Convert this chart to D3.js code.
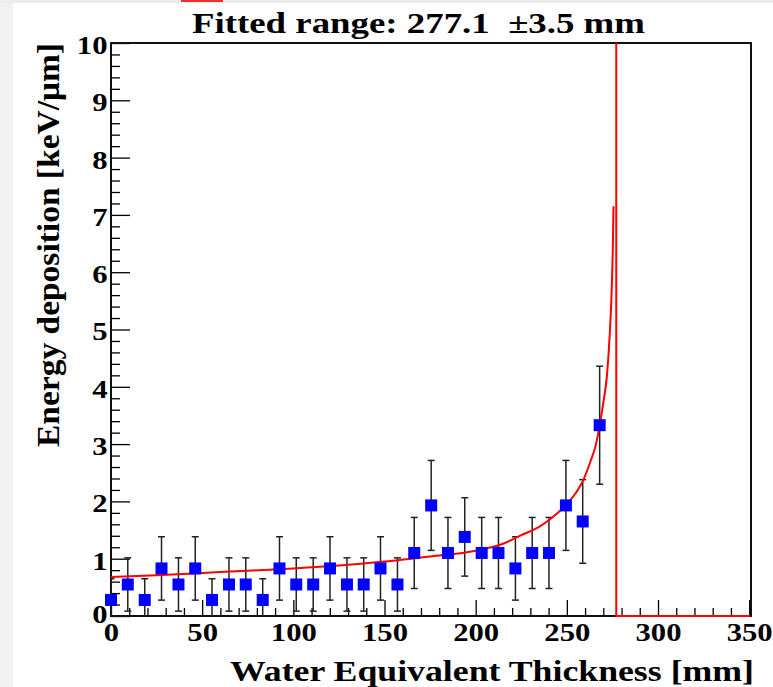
<!DOCTYPE html>
<html>
<head>
<meta charset="utf-8">
<script src="https://cdn.jsdelivr.net/npm/d3@7"></script>
<style>
  body { margin: 0; background: #fff; }
  svg text { font-family: "Liberation Serif", "Times New Roman", serif; font-weight: bold; fill: #000; }
</style>
</head>
<body>
<div id="viz"></div>
<script>
// measured points (Water equivalent thickness in mm, dE/dx in keV/um)
var thickness = [0, 9.2, 18.5, 27.7, 37, 46.2, 55.4, 64.7, 73.9, 83.2, 92.4, 101.6, 110.9, 120.1, 129.4,
                 138.6, 147.8, 157.1, 166.3, 175.6, 184.8, 194, 203.3, 212.5, 221.8, 231, 240.2, 249.5, 258.7, 268];
var deposition = [0.28, 0.55, 0.28, 0.83, 0.55, 0.83, 0.28, 0.55, 0.55, 0.28, 0.83, 0.55, 0.55, 0.83, 0.55,
                  0.55, 0.83, 0.55, 1.1, 1.93, 1.1, 1.38, 1.1, 1.1, 0.83, 1.1, 1.1, 1.93, 1.65, 3.33];
var depositionErr = [0.37, 0.465, 0.37, 0.553, 0.465, 0.553, 0.37, 0.465, 0.465, 0.37, 0.553, 0.465, 0.465, 0.553, 0.465,
                     0.465, 0.553, 0.465, 0.62, 0.785, 0.62, 0.684, 0.62, 0.62, 0.553, 0.62, 0.62, 0.785, 0.73, 1.03];

// fitted curve
var fitX = [0, 25, 50, 75, 100, 125, 150, 175, 200, 215, 225, 235, 242, 249, 255, 259, 263, 266, 268, 270, 272, 273.5, 274.5, 275.2, 275.6];
var fitY = [0.68, 0.71, 0.75, 0.79, 0.83, 0.88, 0.95, 1.04, 1.14, 1.26, 1.41, 1.56, 1.72, 1.92, 2.15, 2.37, 2.7, 3.0, 3.33, 3.72, 4.2, 4.9, 5.6, 6.4, 7.15];
var fitRange = 277.1;
var fitRangeErr = 3.5;

var xTicks = [0, 50, 100, 150, 200, 250, 300, 350];
var yTicks = [0, 1, 2, 3, 4, 5, 6, 7, 8, 9, 10];

var width = 773, height = 687;
var svg = d3.select("#viz").append("svg")
    .attr("width", width)
    .attr("height", height);

svg.append("rect").attr("width", width).attr("height", height).attr("fill", "#fff");
// window chrome around the canvas
svg.append("rect").attr("x", 0).attr("y", 0).attr("width", 13).attr("height", height).attr("fill", "#f1f1f1");
svg.append("rect").attr("x", 0).attr("y", 0).attr("width", width).attr("height", 3).attr("fill", "#ececec");
svg.append("rect").attr("x", 181).attr("y", 0).attr("width", 42).attr("height", 2).attr("fill", "#e8322a");

var pLeft = 111, pRight = 751, pTop = 43, pBottom = 616;
var stretch = 1.18; // the canvas text is a bit wider than the font
var x = d3.scaleLinear().domain([0, 351]).range([pLeft, pRight]);
var y = d3.scaleLinear().domain([0, 10]).range([pBottom, pTop]);

svg.append("clipPath").attr("id", "plotclip")
  .append("rect").attr("x", pLeft).attr("y", pTop).attr("width", pRight - pLeft).attr("height", pBottom - pTop);

// minor ticks
var xMinor = d3.range(0, 351, 10).filter(function(v) { return v % 50 != 0; });
var yMinor = d3.range(0, 10.01, 0.2).filter(function(v) { return Math.abs(v - Math.round(v)) > 0.01; });

svg.append("g").attr("transform", "translate(0," + pBottom + ")")
  .call(d3.axisBottom(x).tickValues(xMinor).tickSize(-8).tickFormat(""))
  .call(function(g) { g.select(".domain").remove(); g.selectAll("line").attr("stroke", "#000").attr("stroke-width", 1.3); });
svg.append("g").attr("transform", "translate(" + pLeft + ",0)")
  .call(d3.axisLeft(y).tickValues(yMinor).tickSize(-9).tickFormat(""))
  .call(function(g) { g.select(".domain").remove(); g.selectAll("line").attr("stroke", "#000").attr("stroke-width", 1.3); });

var xAxis = svg.append("g").attr("transform", "translate(0," + pBottom + ")")
  .call(d3.axisBottom(x).tickValues(xTicks).tickSize(-16).tickPadding(7).tickFormat(d3.format("d")));
xAxis.select(".domain").remove();
xAxis.selectAll("line").attr("stroke", "#000").attr("stroke-width", 1.3);
xAxis.selectAll("text").style("font-size", "26px").attr("transform", "scale(" + stretch + ",1)");

var yAxis = svg.append("g").attr("transform", "translate(" + pLeft + ",0)")
  .call(d3.axisLeft(y).tickValues(yTicks).tickSize(-19).tickPadding(3).tickFormat(d3.format("d")));
yAxis.select(".domain").remove();
yAxis.selectAll("line").attr("stroke", "#000").attr("stroke-width", 1.3);
yAxis.selectAll("text").style("font-size", "26px")
  .attr("dy", function(d) { return d === 0 ? "0.25em" : "0.4em"; })
  .attr("transform", "scale(" + stretch + ",1)");

// frame
svg.append("rect")
  .attr("x", pLeft).attr("y", pTop).attr("width", pRight - pLeft).attr("height", pBottom - pTop)
  .attr("fill", "none").attr("stroke", "#111").attr("stroke-width", 2);

var plot = svg.append("g").attr("clip-path", "url(#plotclip)");

// error bars
var pts = thickness.map(function(t, i) { return {x: t, y: deposition[i], e: depositionErr[i]}; });
plot.selectAll(".err").data(pts).enter().append("line")
  .attr("x1", function(d) { return x(d.x); }).attr("x2", function(d) { return x(d.x); })
  .attr("y1", function(d) { return y(d.y - d.e); }).attr("y2", function(d) { return y(d.y + d.e); })
  .attr("stroke", "#222").attr("stroke-width", 1.5);
plot.selectAll(".capTop").data(pts).enter().append("line")
  .attr("x1", function(d) { return x(d.x) - 3.5; }).attr("x2", function(d) { return x(d.x) + 3.5; })
  .attr("y1", function(d) { return y(d.y + d.e); }).attr("y2", function(d) { return y(d.y + d.e); })
  .attr("stroke", "#222").attr("stroke-width", 1.5);
plot.selectAll(".capBot").data(pts).enter().append("line")
  .attr("x1", function(d) { return x(d.x) - 3.5; }).attr("x2", function(d) { return x(d.x) + 3.5; })
  .attr("y1", function(d) { return y(d.y - d.e); }).attr("y2", function(d) { return y(d.y - d.e); })
  .attr("stroke", "#222").attr("stroke-width", 1.5);

// markers
svg.selectAll(".pt").data(pts).enter().append("rect")
  .attr("x", function(d) { return x(d.x) - 6; })
  .attr("y", function(d) { return y(d.y) - 6; })
  .attr("width", 12).attr("height", 12)
  .attr("fill", "#0000ff");

// fit
var fitPts = fitX.map(function(v, i) { return [v, fitY[i]]; });
plot.append("path")
  .attr("d", d3.line().x(function(d) { return x(d[0]); }).y(function(d) { return y(d[1]); }).curve(d3.curveMonotoneX)(fitPts))
  .attr("fill", "none").attr("stroke", "#ff0000").attr("stroke-width", 2);
// beyond the range the function drops to zero (drawn on top of the frame)
svg.append("path")
  .attr("d", d3.line().x(function(d) { return x(d[0]); }).y(function(d) { return y(d[1]); })([[fitRange, 10], [fitRange, 0], [350.5, 0]]))
  .attr("fill", "none").attr("stroke", "#ff0000").attr("stroke-width", 2);

// titles
svg.append("text")
  .attr("x", 192).attr("y", 33)
  .attr("textLength", 453).attr("lengthAdjust", "spacingAndGlyphs")
  .style("font-size", "30px").style("white-space", "pre")
  .text("Fitted range: " + fitRange.toFixed(1) + "  \u00b1" + fitRangeErr.toFixed(1) + " mm");

svg.append("text")
  .attr("x", 230).attr("y", 681)
  .attr("textLength", 524).attr("lengthAdjust", "spacingAndGlyphs")
  .style("font-size", "30px")
  .text("Water Equivalent Thickness [mm]");

svg.append("text")
  .attr("transform", "translate(59,447) rotate(-90)")
  .attr("textLength", 404).attr("lengthAdjust", "spacingAndGlyphs")
  .style("font-size", "32px")
  .text("Energy deposition [keV/\u03bcm]");
</script>
</body>
</html>
